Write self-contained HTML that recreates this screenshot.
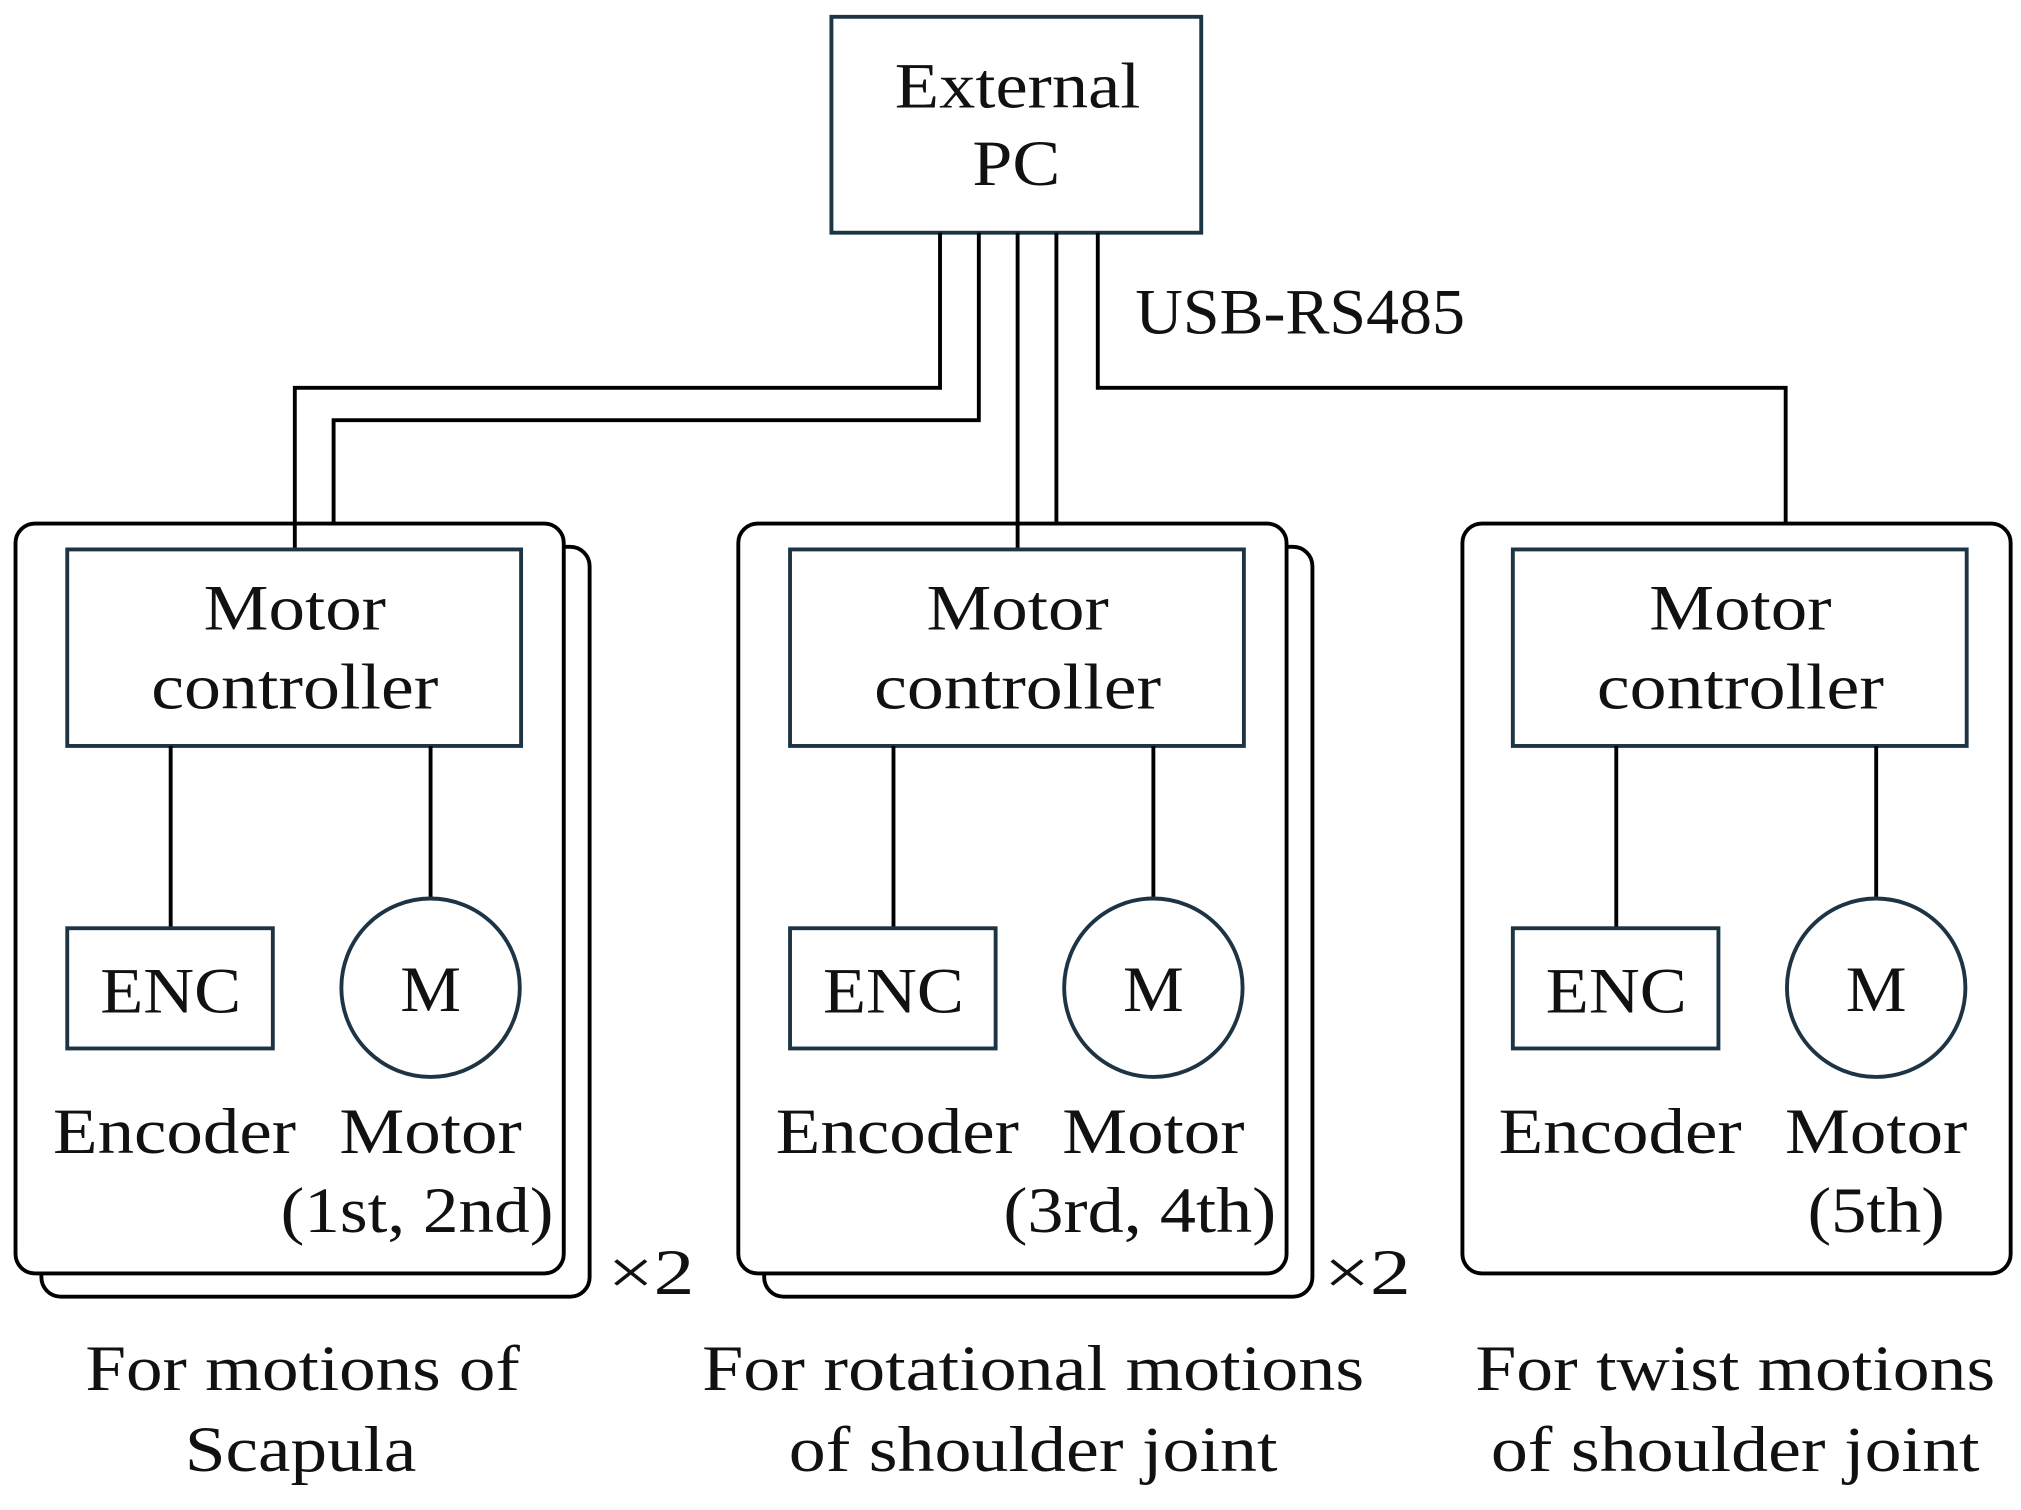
<!DOCTYPE html>
<html><head><meta charset="utf-8"><style>html,body{margin:0;padding:0;background:#fff}svg{display:block}</style></head>
<body>
<svg width="2021" height="1510" viewBox="0 0 1563 1168" preserveAspectRatio="none" xmlns="http://www.w3.org/2000/svg" font-family="Liberation Serif, serif" font-size="50" fill="#111">
<g fill="none" stroke="#000" stroke-width="3">
<rect x="643" y="13" width="286" height="167" stroke="#1d3445"/>
<polyline points="727,180 727,300 228,300 228,425"/>
<polyline points="757,180 757,325 258,325 258,405"/>
<line x1="787" y1="180" x2="787" y2="425"/>
<line x1="817" y1="180" x2="817" y2="405"/>
<polyline points="849,180 849,300 1381,300 1381,405"/>
</g>
<g>
<rect x="32" y="423" width="424" height="580" rx="15" fill="#fff" stroke="#000" stroke-width="3"/>
<rect x="12" y="405" width="424" height="580" rx="15" fill="#fff" stroke="#000" stroke-width="3"/>
</g>
<g transform="translate(559,0)">
<rect x="32" y="423" width="424" height="580" rx="15" fill="#fff" stroke="#000" stroke-width="3"/>
<rect x="12" y="405" width="424" height="580" rx="15" fill="#fff" stroke="#000" stroke-width="3"/>
</g>
<rect x="1131" y="405" width="424" height="580" rx="15" fill="#fff" stroke="#000" stroke-width="3"/>
<g fill="none" stroke="#000" stroke-width="3">
<line x1="228" y1="405" x2="228" y2="425"/>
<line x1="787" y1="405" x2="787" y2="425"/>
</g>
<g id="inner">
<rect x="52" y="425" width="351" height="152" fill="none" stroke="#1d3445" stroke-width="3"/>
<line x1="132" y1="577" x2="132" y2="718" stroke="#000" stroke-width="3"/>
<line x1="333" y1="577" x2="333" y2="695" stroke="#000" stroke-width="3"/>
<rect x="52" y="718" width="159" height="93" fill="none" stroke="#1d3445" stroke-width="3"/>
<circle cx="333" cy="764" r="69" fill="none" stroke="#1d3445" stroke-width="3"/>
<text x="228" y="487" text-anchor="middle" textLength="141" lengthAdjust="spacingAndGlyphs">Motor</text>
<text x="228" y="548" text-anchor="middle" textLength="222" lengthAdjust="spacingAndGlyphs">controller</text>
<text x="132" y="783" text-anchor="middle" textLength="109" lengthAdjust="spacingAndGlyphs">ENC</text>
<text x="333" y="782" text-anchor="middle" textLength="47" lengthAdjust="spacingAndGlyphs">M</text>
<text x="135" y="892" text-anchor="middle" textLength="188" lengthAdjust="spacingAndGlyphs">Encoder</text>
<text x="333" y="892" text-anchor="middle" textLength="141" lengthAdjust="spacingAndGlyphs">Motor</text>
</g>
<use href="#inner" transform="translate(559,0)"/>
<use href="#inner" transform="translate(1118,0)"/>
<text x="217" y="953" textLength="211" lengthAdjust="spacingAndGlyphs">(1st, 2nd)</text>
<text x="776" y="953" textLength="211" lengthAdjust="spacingAndGlyphs">(3rd, 4th)</text>
<text x="1398" y="953" textLength="106" lengthAdjust="spacingAndGlyphs">(5th)</text>
<text x="470" y="1001" textLength="67" lengthAdjust="spacingAndGlyphs">×2</text>
<text x="1024" y="1001" textLength="67" lengthAdjust="spacingAndGlyphs">×2</text>
<text x="878" y="258" textLength="255" lengthAdjust="spacingAndGlyphs">USB-RS485</text>
<text x="692" y="83" textLength="190" lengthAdjust="spacingAndGlyphs">External</text>
<text x="752" y="143" textLength="68" lengthAdjust="spacingAndGlyphs">PC</text>
<text x="66" y="1075" textLength="336" lengthAdjust="spacingAndGlyphs">For motions of</text>
<text x="143" y="1138" textLength="179" lengthAdjust="spacingAndGlyphs">Scapula</text>
<text x="543" y="1075" textLength="512" lengthAdjust="spacingAndGlyphs">For rotational motions</text>
<text x="610" y="1138" textLength="378" lengthAdjust="spacingAndGlyphs">of shoulder joint</text>
<text x="1141" y="1075" textLength="402" lengthAdjust="spacingAndGlyphs">For twist motions</text>
<text x="1153" y="1138" textLength="378" lengthAdjust="spacingAndGlyphs">of shoulder joint</text>
</svg>
</body></html>
